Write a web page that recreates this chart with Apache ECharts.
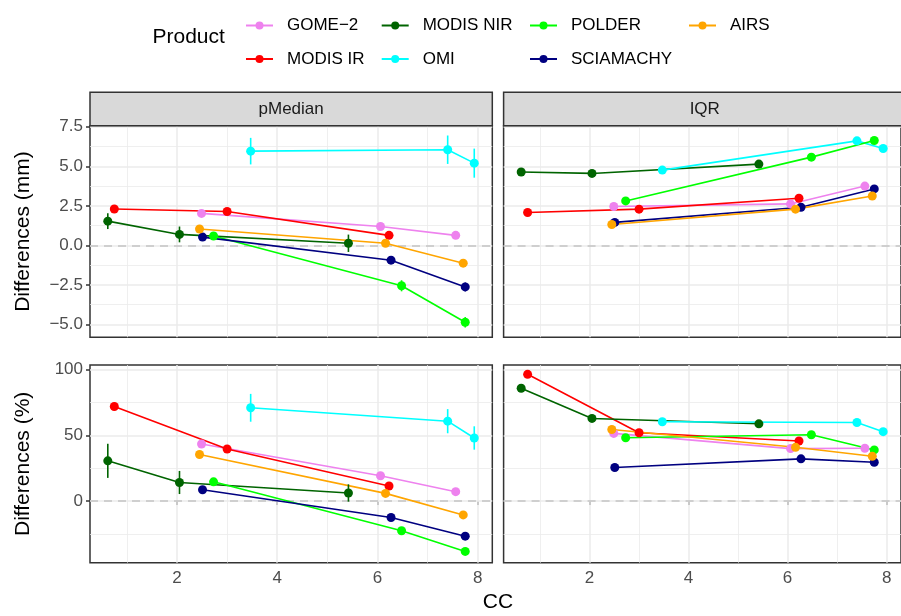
<!DOCTYPE html>
<html><head><meta charset="utf-8">
<script src="https://cdn.jsdelivr.net/npm/echarts@6/dist/echarts.min.js"></script>
<style>html,body{margin:0;padding:0;background:#fff}#c{width:901px;height:616px}</style>
</head><body><div id="c"></div>
<script>
// ---------- data ----------
const products = ['GOME−2','MODIS IR','MODIS NIR','OMI','POLDER','SCIAMACHY','AIRS'];
const productColors = ['#EE82EE','#FF0000','#006400','#00FFFF','#00FF00','#000080','#FFA500'];
const panelNames = ['pMedian','IQR'];

// CC (x) for each product, in product order
const cc = [[2.49,6.06,7.56],[0.75,3.00,6.23],[0.62,2.05,5.42],[3.47,7.40,7.93],[2.73,6.48,7.75],[2.51,6.27,7.75],[2.45,6.16,7.71]];
// Differences (mm)
const pMedianMm    = [[2.02,1.19,0.63],[2.30,2.14,0.63],[1.53,0.69,0.13],[5.96,6.05,5.20],[0.59,-2.56,-4.87],[0.52,-0.94,-2.63],[1.03,0.13,-1.13]];
const pMedianMmErr = [[0.05,0.05,0.05],[0.08,0.08,0.08],[0.50,0.50,0.55],[0.84,0.90,0.92],[0.20,0.35,0.33],[0.05,0.10,0.28],[0.05,0.05,0.05]];
const iqrMm        = [[2.46,2.62,3.75],[2.08,2.29,2.98],[4.64,4.55,5.14],[4.76,6.61,6.13],[2.81,5.58,6.63],[1.45,2.41,3.57],[1.32,2.29,3.12]];
// Differences (%)
const pMedianPct    = [[43.4,19.2,7.1],[72.0,39.6,11.4],[30.6,14.1,6.1],[71.0,60.8,48.0],[14.6,-22.7,-38.4],[8.6,-12.6,-26.8],[35.4,5.8,-10.6]];
const pMedianPctErr = [[0.5,0.5,0.5],[3,1,1],[13,8.8,6.6],[10.6,9.2,8.9],[2,1,1],[0.5,0.5,0.5],[0.5,0.5,0.5]];
const iqrPct        = [[51.5,39.9,40.2],[96.5,52.0,45.7],[85.9,62.9,58.8],[60.4,59.8,52.8],[48.2,50.5,38.9],[25.5,32.1,29.5],[54.5,40.9,34.1]];

// ticks
const ccTicks = [2,4,6,8];
const ccMinor = [1,3,5,7];
const mmTicks = [-5,-2.5,0,2.5,5,7.5];
const mmMinor = [-3.75,-1.25,1.25,3.75,6.25];
const pctTicks = [0,50,100];
const pctMinor = [-25,25,75];

// ---------- layout ----------
const FONT = 'Liberation Sans, Arial, sans-serif';
const xRange = [0.265, 8.29];
const mmRange = [-5.82, 7.57];
const pctRange = [-47.0, 103.6];
const colLeft = [90, 503.6], colW = 402.3;
const rowTop = [125.7, 365], rowH = [211.6, 197.7];

const panels = [
  {vals: pMedianMm, err: pMedianMmErr, row:0, col:0},
  {vals: iqrMm, err: null, row:0, col:1},
  {vals: pMedianPct, err: pMedianPctErr, row:1, col:0},
  {vals: iqrPct, err: null, row:1, col:1}
];

const grids = [], xAxes = [], yAxes = [], series = [];
panels.forEach((p, pi) => {
  grids.push({left: colLeft[p.col], top: rowTop[p.row], width: colW, height: rowH[p.row],
    show: true, borderColor: '#333333', borderWidth: 1.5, backgroundColor: '#ffffff', containLabel: false});
  const showX = p.row === 1, showY = p.col === 0;
  const yT = p.row === 0 ? mmTicks : pctTicks;
  const yM = p.row === 0 ? mmMinor : pctMinor;
  const yR = p.row === 0 ? mmRange : pctRange;
  xAxes.push({type:'value', gridIndex: pi, min: xRange[0], max: xRange[1],
    axisLine:{show:false}, splitLine:{show:false},
    axisTick:{show: showX, customValues: ccTicks, length: 4, lineStyle:{color:'#333333', width:1.5}},
    axisLabel:{show: showX, customValues: ccTicks, margin: 7, color:'#4D4D4D', fontSize: 17, fontFamily: FONT}});
  yAxes.push({type:'value', gridIndex: pi, min: yR[0], max: yR[1],
    axisLine:{show:false}, splitLine:{show:false},
    axisTick:{show: showY, customValues: yT, length: 4, lineStyle:{color:'#333333', width:1.5}},
    axisLabel:{show: showY, customValues: yT, margin: 7, color:'#4D4D4D', fontSize: 17, fontFamily: FONT,
      formatter: v => p.row === 0 ? (v < 0 ? '−' : '') + Math.abs(v).toFixed(1) : (v < 0 ? '−' : '') + Math.abs(v)}});
  // gridlines via markLine on the panel scales
  const ml = [];
  ccMinor.forEach(v => ml.push({xAxis: v, lineStyle:{color:'#EBEBEB', width:0.8, type:'solid'}}));
  yM.forEach(v => ml.push({yAxis: v, lineStyle:{color:'#EBEBEB', width:0.8, type:'solid'}}));
  ccTicks.forEach(v => ml.push({xAxis: v, lineStyle:{color:'#EBEBEB', width:1.5, type:'solid'}}));
  yT.forEach(v => ml.push({yAxis: v, lineStyle:{color:'#EBEBEB', width:1.5, type:'solid'}}));
  ml.push({yAxis: 0, lineStyle:{color:'#C4C4C4', width:1.6, type:[8,6]}});
  series.push({type:'line', xAxisIndex: pi, yAxisIndex: pi, data: [], silent: true, animation:false,
    markLine:{silent:true, z:1, animation:false, symbol:['none','none'], label:{show:false}, emphasis:{disabled:true}, data: ml}});
  // product lines and points
  products.forEach((name, i) => {
    series.push({type:'line', name, xAxisIndex: pi, yAxisIndex: pi, z: 3, animation:false,
      data: cc[i].map((x, k) => [x, p.vals[i][k]]),
      symbol:'circle', symbolSize: 9, showSymbol: true,
      lineStyle:{color: productColors[i], width: 1.6},
      itemStyle:{color: productColors[i]},
      emphasis:{disabled:true}});
  });
  // error bars
  if (p.err) {
    const eb = [];
    products.forEach((name, i) => cc[i].forEach((x, k) => {
      eb.push([x, p.vals[i][k] - p.err[i][k], p.vals[i][k] + p.err[i][k], i]);
    }));
    series.push({type:'custom', xAxisIndex: pi, yAxisIndex: pi, z: 4, animation:false, silent:true,
      encode:{x:0, y:[1,2]}, data: eb,
      renderItem: (params, api) => {
        const x = api.value(0);
        const a = api.coord([x, api.value(1)]);
        const b = api.coord([x, api.value(2)]);
        return {type:'line', shape:{x1:a[0], y1:a[1], x2:b[0], y2:b[1]},
          style:{stroke: productColors[api.value(3)], lineWidth: 1.6}};
      }});
  }
});

// legends: one per column, column-major like the reference
const legendCols = [[0,1],[2,3],[4,5],[6]];
const legendLeft = [240, 375.7, 524, 683];
const legends = legendCols.map((idx, c) => ({
  orient:'vertical', left: legendLeft[c], top: 11.5, itemGap: 15.5,
  itemWidth: 27, itemHeight: 10, selectedMode: false,
  data: idx.map(i => products[i]),
  textStyle:{fontSize: 17, color:'#000000', fontFamily: FONT, lineHeight: 18, padding:[0,0,0,9]}
}));

const graphics = [];
panelNames.forEach((t, c) => {
  graphics.push({type:'rect', shape:{x: colLeft[c], y: 92.3, width: colW, height: 33.4},
    style:{fill:'#D9D9D9', stroke:'#333333', lineWidth:1.5}, z: 10});
  graphics.push({type:'text', x: colLeft[c] + colW/2, y: 109.5, z: 11,
    style:{text: t, fill:'#1A1A1A', font: '17px ' + FONT, textAlign:'center', textVerticalAlign:'middle'}});
});
graphics.push({type:'text', x: 152.5, y: 37.5, z: 11,
  style:{text:'Product', fill:'#000000', font:'21px ' + FONT, textAlign:'left', textVerticalAlign:'middle'}});
graphics.push({type:'text', x: 498, y: 602, z: 11,
  style:{text:'CC', fill:'#000000', font:'21px ' + FONT, textAlign:'center', textVerticalAlign:'middle'}});
graphics.push({type:'text', x: 23, y: rowTop[0] + rowH[0]/2, rotation: Math.PI/2, z: 11,
  style:{text:'Differences (mm)', fill:'#000000', font:'21px ' + FONT, textAlign:'center', textVerticalAlign:'middle'}});
graphics.push({type:'text', x: 23, y: rowTop[1] + rowH[1]/2, rotation: Math.PI/2, z: 11,
  style:{text:'Differences (%)', fill:'#000000', font:'21px ' + FONT, textAlign:'center', textVerticalAlign:'middle'}});

const chart = echarts.init(document.getElementById('c'), null, {renderer:'canvas'});
chart.setOption({
  backgroundColor:'#ffffff',
  animation:false,
  textStyle:{fontFamily: FONT},
  grid: grids, xAxis: xAxes, yAxis: yAxes,
  legend: legends,
  graphic: graphics,
  series
});
</script></body></html>
